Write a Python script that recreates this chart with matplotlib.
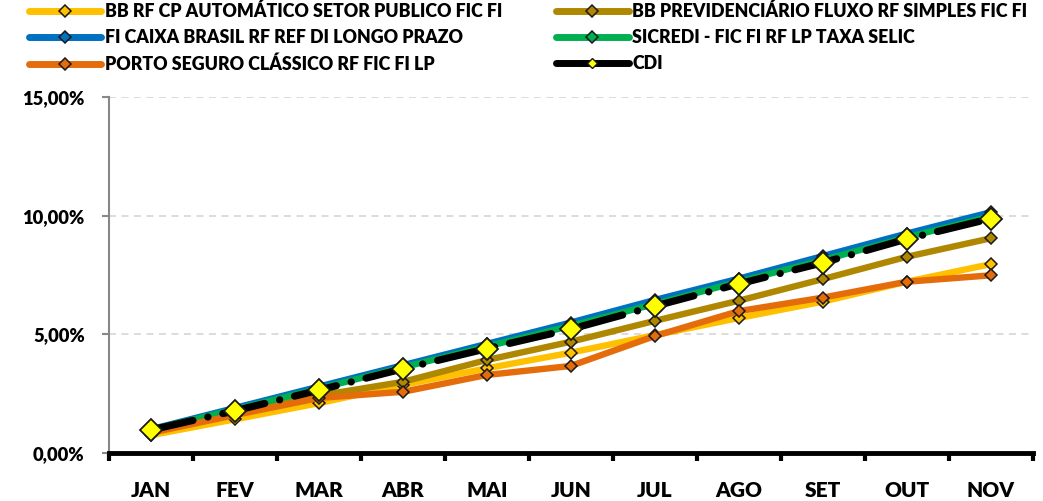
import matplotlib
matplotlib.use("Agg")
import matplotlib.pyplot as plt
from matplotlib.lines import Line2D
from matplotlib.ticker import FuncFormatter, FixedLocator

plt.rcParams['font.family'] = ['Lato', 'DejaVu Sans']
plt.rcParams['lines.scale_dashes'] = False

months = ["JAN", "FEV", "MAR", "ABR", "MAI", "JUN", "JUL", "AGO", "SET", "OUT", "NOV"]

names = [
    "BB RF CP AUTOMÁTICO SETOR PUBLICO FIC FI",
    "BB PREVIDENCIÁRIO FLUXO RF SIMPLES FIC FI",
    "FI CAIXA BRASIL RF REF DI LONGO PRAZO",
    "SICREDI - FIC FI RF LP TAXA SELIC",
    "PORTO SEGURO CLÁSSICO RF FIC FI LP",
    "CDI",
]

bb_automatico = [0.75, 1.42, 2.10, 2.87, 3.57, 4.23, 4.97, 5.69, 6.38, 7.22, 7.96]
bb_prev = [0.90, 1.65, 2.42, 3.00, 3.92, 4.69, 5.57, 6.42, 7.33, 8.27, 9.05]
caixa = [1.00, 1.90, 2.80, 3.70, 4.60, 5.50, 6.45, 7.35, 8.30, 9.25, 10.15]
sicredi = [0.98, 1.83, 2.71, 3.61, 4.49, 5.36, 6.28, 7.22, 8.13, 9.09, 9.98]
porto = [0.85, 1.60, 2.32, 2.58, 3.29, 3.67, 4.93, 5.98, 6.55, 7.22, 7.49]
cdi = [0.97, 1.78, 2.65, 3.55, 4.40, 5.22, 6.19, 7.13, 8.02, 9.02, 9.88]

colors = ["#FFC000", "#AF8700", "#0070C0", "#00B050", "#E46C0A"]

fig = plt.figure(figsize=(10.43, 5.01), dpi=100)
ax = fig.add_axes([0.1045, 0.0958, 0.8855, 0.7102])

x = list(range(len(months)))
series = [bb_automatico, bb_prev, caixa, sicredi, porto]
leg_handles = []
for vals, col, name in zip(series, colors, names[:5]):
    ax.plot(x, vals, color=col, lw=4.6, solid_capstyle='round',
            marker='D', markersize=6.2, markerfacecolor=col,
            markeredgecolor='#1a1a1a', markeredgewidth=1.1)
    leg_handles.append(Line2D([], [], color=col, lw=5, solid_capstyle='round',
                              marker='D', markersize=6.2, markerfacecolor=col,
                              markeredgecolor='#1a1a1a', markeredgewidth=1.1))

ax.plot(x, cdi, color='black', lw=5.2,
        linestyle=(0, (31, 11, 0.1, 11)), dash_capstyle='round',
        marker='D', markersize=11, markerfacecolor='#FFFF00',
        markeredgecolor='#1a1a1a', markeredgewidth=1.3, zorder=5)
leg_handles.append(Line2D([], [], color='black', lw=5, solid_capstyle='round',
                          marker='D', markersize=5.5, markerfacecolor='#FFFF00',
                          markeredgecolor='#1a1a1a', markeredgewidth=1.0))

ax.set_xlim(-0.5, len(months) - 0.5)
ax.set_ylim(0, 15)
ax.set_yticks([0, 5, 10, 15])
ax.yaxis.set_major_formatter(FuncFormatter(lambda v, p: f"{v:.2f}%".replace('.', ',')))
ax.set_xticks(x)
ax.set_xticklabels(months)
ax.xaxis.set_minor_locator(FixedLocator([i - 0.5 for i in range(len(months) + 1)]))
ax.tick_params(axis='x', which='major', length=0, pad=20, labelsize=15)
ax.tick_params(axis='x', which='minor', length=6, width=3, color='black', direction='out')
ax.tick_params(axis='y', which='major', length=5, width=1.5, color='#888888', pad=12.5, labelsize=13.2)
for lab in ax.get_xticklabels() + ax.get_yticklabels():
    lab.set_fontweight('heavy')

ax.grid(axis='y', color='#d9d9d9', linestyle=(0, (5, 4)), lw=1.3)
ax.set_axisbelow(True)
for s in ['top', 'right']:
    ax.spines[s].set_visible(False)
ax.spines['left'].set_color('#888888')
ax.spines['left'].set_linewidth(1.5)
ax.spines['bottom'].set_color('black')
ax.spines['bottom'].set_linewidth(3.5)
ax.spines['bottom'].set_zorder(6)

order = [0, 2, 4, 1, 3, 5]
leg = fig.legend([leg_handles[i] for i in order], [names[i] for i in order],
                 loc='upper left', bbox_to_anchor=(0.012, 1.026), ncol=2,
                 frameon=False, handlelength=4.1, handletextpad=0.2,
                 columnspacing=3.0, labelspacing=0.5,
                 prop={'weight': 'heavy', 'size': 12.8})

fig.savefig("out.png", dpi=100)
